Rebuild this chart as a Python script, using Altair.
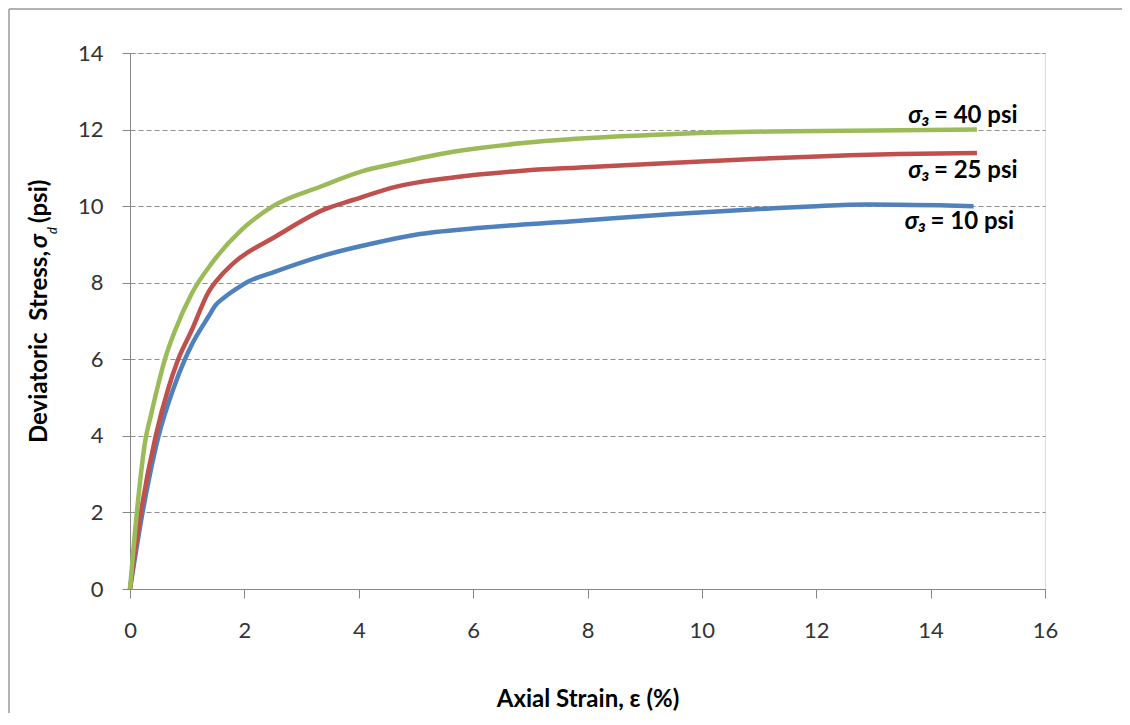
import altair as alt
import pandas as pd

# ---- data ----
pressures = [10, 25, 40]
colors = ["#4F81BD", "#C0504D", "#9BBB59"]

strain_10 = [0, 0.22, 0.50, 0.76, 0.96, 1.08, 1.37, 1.50, 1.66, 1.90, 2.07, 2.54, 3.41, 4.20, 5.07, 6.24, 7.69, 9.44, 11.19, 12.0, 12.88, 14.75]
stress_10 = [0, 2.0, 4.0, 5.24, 6.0, 6.38, 7.11, 7.42, 7.63, 7.88, 8.03, 8.29, 8.72, 9.01, 9.27, 9.45, 9.60, 9.79, 9.94, 10.0, 10.04, 10.0]

strain_25 = [0, 0.19, 0.45, 0.67, 0.83, 1.08, 1.37, 1.60, 1.84, 2.54, 3.41, 3.90, 4.66, 5.65, 6.82, 7.87, 9.44, 11.19, 12.59, 13.46, 14.81]
stress_25 = [0, 2.0, 4.0, 5.24, 5.95, 6.76, 7.75, 8.2, 8.55, 9.2, 9.92, 10.16, 10.51, 10.75, 10.92, 11.01, 11.13, 11.25, 11.33, 11.36, 11.39]

strain_40 = [0, 0.12, 0.27, 0.36, 0.47, 0.61, 0.79, 1.08, 1.43, 1.95, 2.50, 3.35, 4.08, 4.60, 5.65, 6.82, 7.80, 9.44, 11.19, 12.59, 14.81]
stress_40 = [0, 2.0, 3.9, 4.5, 5.2, 6.0, 6.76, 7.72, 8.51, 9.38, 10.0, 10.52, 10.92, 11.10, 11.42, 11.64, 11.76, 11.88, 11.95, 11.97, 12.0]

x_ticks = [0, 2, 4, 6, 8, 10, 12, 14, 16]
y_ticks = [0, 2, 4, 6, 8, 10, 12, 14]

x_title = "Axial Strain, ε (%)"
y_title_main = "Deviatoric\u00a0\u00a0Stress,"
y_title_sigma = "σ"
y_title_sub = "d"
y_title_unit = "(psi)"

# ---- build tables ----
series_names = [f"σ₃ = {p} psi" for p in pressures]
curves = [(strain_10, stress_10), (strain_25, stress_25), (strain_40, stress_40)]
rows = []
for name, (xs, ys) in zip(series_names, curves):
    for i, (a, b) in enumerate(zip(xs, ys)):
        rows.append({"strain": a, "stress": b, "series": name, "i": i})
df = pd.DataFrame(rows)

FONT = "Lato"
GRAY = "#868686"
TXT = 24

xscale = alt.Scale(domain=[0, 16], nice=False, zero=False)
yscale = alt.Scale(domain=[0, 14], nice=False, zero=False)

lines = alt.Chart(df).mark_line(strokeWidth=4.5, interpolate="monotone", clip=False).encode(
    x=alt.X("strain:Q", scale=xscale,
            axis=alt.Axis(values=x_ticks, format="d", title=x_title, grid=False,
                          domainColor=GRAY, tickColor=GRAY, tickSize=9, labelPadding=22,
                          labelFontSize=22, labelFont=FONT, labelColor="#333333",
                          titleFont=FONT, titleFontSize=TXT, titleFontWeight="bold",
                          titleColor="#000000", titleY=117, titleBaseline="alphabetic",
                          labelFlush=False)),
    y=alt.Y("stress:Q", scale=yscale,
            axis=alt.Axis(values=y_ticks, format="d", title=None, grid=True, gridDash=[5, 3],
                          gridColor="#8f8f8f", domainColor=GRAY, tickColor=GRAY, tickSize=8,
                          labelPadding=19, labelFontSize=22, labelFont=FONT,
                          labelColor="#333333", labelFlush=False)),
    color=alt.Color("series:N", scale=alt.Scale(domain=series_names, range=colors), legend=None),
    order="i:Q",
)

layers = [lines]

# annotations: "σ₃" (italic) + "= NN psi", placed next to each curve's end
dys = {10: 16, 25: 18, 40: -14}
for name, p, (xs, ys) in zip(series_names, pressures, curves):
    end = pd.DataFrame({"strain": [xs[-1]], "stress": [ys[-1]],
                        "sym": ["σ₃"], "rest": [f"= {p} psi"]})
    base = alt.Chart(end)
    layers.append(base.mark_text(align="right", baseline="middle", dx=-47, dy=dys[p],
                                 font=FONT, fontSize=TXT, fontWeight="bold",
                                 fontStyle="italic", color="#000000").encode(
        x=alt.X("strain:Q", scale=xscale), y=alt.Y("stress:Q", scale=yscale), text="sym:N"))
    layers.append(base.mark_text(align="left", baseline="middle", dx=-43, dy=dys[p],
                                 font=FONT, fontSize=TXT, fontWeight="bold",
                                 color="#000000").encode(
        x=alt.X("strain:Q", scale=xscale), y=alt.Y("stress:Q", scale=yscale), text="rest:N"))

# composite rotated y-axis title
def ttext(t, x, y, align, size=TXT, weight="bold", style="normal"):
    return alt.Chart(pd.DataFrame({"t": [t]})).mark_text(
        angle=270, align=align, baseline="alphabetic", font=FONT, fontSize=size,
        fontWeight=weight, fontStyle=style, color="#000000").encode(
        x=alt.value(x), y=alt.value(y), text="t:N")

layers.append(ttext(y_title_main, -83, 198, "right"))
layers.append(ttext(y_title_sigma, -83, 195, "left", style="italic"))
layers.append(ttext(y_title_sub, -73, 181, "left", size=13, weight="normal", style="italic"))
layers.append(ttext(y_title_unit, -83, 170, "left"))

# outer chart frame (left and top edges visible in the reference)
frame_l = alt.Chart(pd.DataFrame({"a": [0]})).mark_rule(color="#9a9a9a", strokeWidth=1.5).encode(
    x=alt.value(-121), y=alt.value(-44), y2=alt.value(700))
frame_t = alt.Chart(pd.DataFrame({"a": [0]})).mark_rule(color="#9a9a9a", strokeWidth=1.5).encode(
    x=alt.value(-121), x2=alt.value(1000), y=alt.value(-44))
layers = [frame_l, frame_t] + layers

chart = alt.layer(*layers).properties(
    width=915, height=536,
    autosize=alt.AutoSizeParams(type="none"),
    padding={"left": 122, "top": 45, "right": 77, "bottom": 124},
).configure_view(stroke=None).configure(background="#ffffff")

chart.save("out.html", embed_options={"renderer": "svg", "actions": False})
